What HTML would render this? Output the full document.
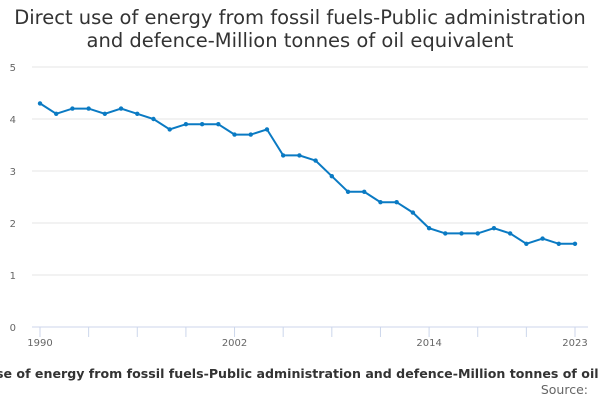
<!DOCTYPE html>
<html><head><meta charset="utf-8"><style>
body{margin:0;background:#fff;font-family:"DejaVu Sans","Liberation Sans",sans-serif;}
#wrap{position:relative;width:600px;height:400px;overflow:hidden;}
</style></head><body>
<div id="wrap">
<svg id="chart" width="600" height="400" font-family="DejaVu Sans, sans-serif">
<text x="300" y="24" text-anchor="middle" font-size="19.5" fill="#333">Direct use of energy from fossil fuels-Public administration</text>
<text x="300" y="47" text-anchor="middle" font-size="19.5" fill="#333">and defence-Million tonnes of oil equivalent</text>
<g id="grid"></g><g id="xaxis"></g><g id="series"></g>
<text x="309" y="378" text-anchor="middle" font-size="12.6" font-weight="bold" fill="#333">Direct use of energy from fossil fuels-Public administration and defence-Million tonnes of oil equivalent</text>
<text x="588" y="394" text-anchor="end" font-size="12.5" fill="#666">Source:</text>
</svg>
</div>
<script>
const years=[1990,1991,1992,1993,1994,1995,1996,1997,1998,1999,2000,2001,2002,2003,2004,2005,2006,2007,2008,2009,2010,2011,2012,2013,2014,2015,2016,2017,2018,2019,2020,2021,2022,2023];
const values=[4.3,4.1,4.2,4.2,4.1,4.2,4.1,4.0,3.8,3.9,3.9,3.9,3.7,3.7,3.8,3.3,3.3,3.2,2.9,2.6,2.6,2.4,2.4,2.2,1.9,1.8,1.8,1.8,1.9,1.8,1.6,1.7,1.6,1.6];
const yTicks=[0,1,2,3,4,5];
const xLabels=[1990,2002,2014,2023];
const NS="http://www.w3.org/2000/svg";
const x=v=>40+(v-1990)*(535/33);
const y=v=>327-v*52;
function mk(t,a,p){const e=document.createElementNS(NS,t);for(const k in a)e.setAttribute(k,a[k]);p.appendChild(e);return e;}
const grid=document.getElementById('grid'),xa=document.getElementById('xaxis'),se=document.getElementById('series');
yTicks.forEach(t=>{
 const l=mk('line',{x1:32,x2:588,y1:y(t),y2:y(t),stroke:t===0?'#ccd6eb':'#e6e6e6'},grid);
 
 
 const tx=mk('text',{x:16,y:y(t)+4,'font-size':10,fill:'#666','text-anchor':'end'},grid);
 tx.textContent=t;
 
 
});
for(let yr=1990;yr<=2023;yr+=3){
 const l=mk('line',{x1:x(yr),x2:x(yr),y1:327,y2:337,stroke:'#ccd6eb'},xa);
 
 
}
const lt=mk('line',{x1:x(2023),x2:x(2023),y1:327,y2:337,stroke:'#ccd6eb'},xa);


xLabels.forEach(v=>{
 const tx=mk('text',{x:x(v),y:346,'font-size':10,fill:'#666','text-anchor':'middle'},xa);
 tx.textContent=v;
 
 
});
const pl=mk('polyline',{points:years.map((yr,i)=>x(yr)+','+y(values[i])).join(' '),fill:'none',stroke:'#0a7ac3','stroke-width':2},se);


years.forEach((yr,i)=>{
 const c=mk('circle',{cx:x(yr),cy:y(values[i]),r:2.2,fill:'#0a7ac3'},se);
 
 
});
</script>
</body></html>
